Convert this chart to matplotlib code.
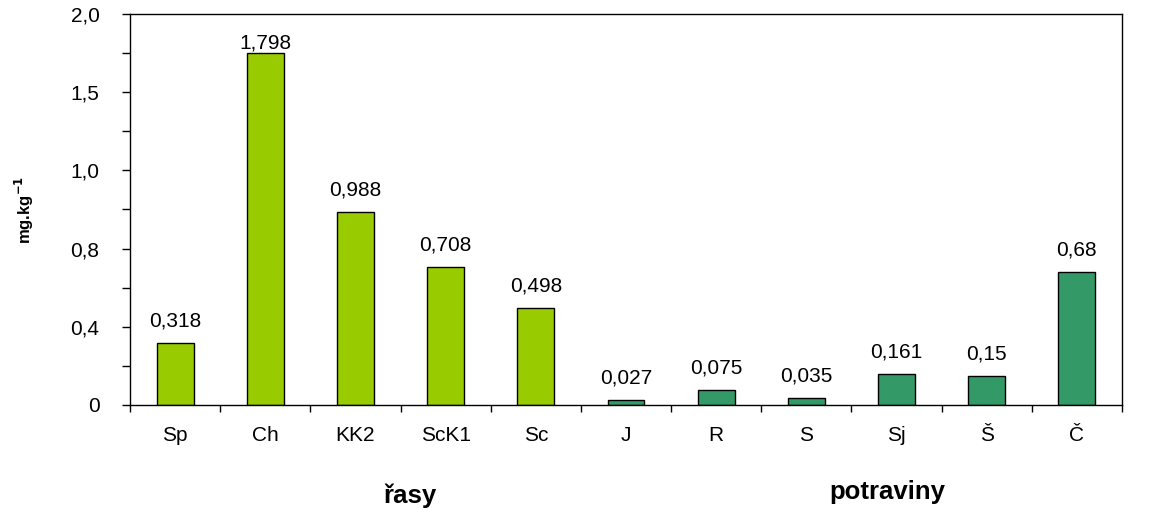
import matplotlib.pyplot as plt
import numpy as np
from matplotlib.ticker import FixedLocator

plt.rcParams['font.family'] = ['Liberation Sans', 'DejaVu Sans']

# region data
categories = ["Sp", "Ch", "KK2", "ScK1", "Sc", "J", "R", "S", "Sj", "Š", "Č"]
values = [0.318, 1.798, 0.988, 0.708, 0.498, 0.027, 0.075, 0.035, 0.161, 0.15, 0.68]
valueLabels = ["0,318", "1,798", "0,988", "0,708", "0,498", "0,027", "0,075", "0,035", "0,161", "0,15", "0,68"]
groups = ["řasy"] * 5 + ["potraviny"] * 6

yTickValues = [0, 0.4, 0.8, 1.2, 1.6, 2.0]
yTickLabels = ["0", "0,4", "0,8", "1,0", "1,5", "2,0"]
# endregion

groupColors = {"řasy": "#99cc00", "potraviny": "#339966"}
yMax = 2.0


def plotBars(ax):
    x = np.arange(len(categories))
    colors = [groupColors[g] for g in groups]
    bars = ax.bar(x, values, width=0.41, color=colors, edgecolor="black", linewidth=1.0)

    for bar, label in zip(bars, valueLabels):
        # labels close to the top of the plot sit tight on the bar
        offset = 1 if bar.get_height() > 0.85 * yMax else 9
        ax.annotate(label, (bar.get_x() + bar.get_width() / 2, bar.get_height()),
                    xytext=(0, offset), textcoords="offset points",
                    ha="center", va="bottom", fontsize=15)
    return x


def styleAxes(ax, x):
    ax.set_xlim(-0.5, len(categories) - 0.5)
    ax.set_ylim(0, yMax)

    ax.set_xticks(x)
    ax.set_xticklabels(categories, fontsize=15)
    ax.xaxis.set_minor_locator(FixedLocator(np.arange(-0.5, len(categories), 1.0)))
    ax.tick_params(axis="x", which="major", length=0, pad=15)
    ax.tick_params(axis="x", which="minor", length=5, width=1.0, direction="out")

    ax.set_yticks(yTickValues)
    ax.set_yticklabels(yTickLabels, fontsize=15)
    ax.yaxis.set_minor_locator(FixedLocator(np.arange(0.2, yMax, 0.4)))
    ax.tick_params(axis="y", which="both", length=6, width=1.0, direction="out", pad=16)

    for spine in ax.spines.values():
        spine.set_linewidth(1.0)

    ax.set_ylabel("mg.kg$^{\\mathbf{-1}}$", fontsize=12, fontweight="bold", labelpad=25)

    trans = ax.get_xaxis_transform()
    ax.text(2.6, -0.232, "řasy", transform=trans, ha="center", va="center",
            fontsize=18.5, fontweight="bold")
    ax.text(7.9, -0.222, "potraviny", transform=trans, ha="center", va="center",
            fontsize=18.5, fontweight="bold")


if __name__ == '__main__':
    fig = plt.figure(figsize=(11.54, 5.08), dpi=100)
    ax = fig.add_axes([130 / 1154, 1 - 405 / 508, (1122 - 130) / 1154, (405 - 14) / 508])

    x = plotBars(ax)
    styleAxes(ax, x)

    plt.savefig("out.png", dpi=100)
